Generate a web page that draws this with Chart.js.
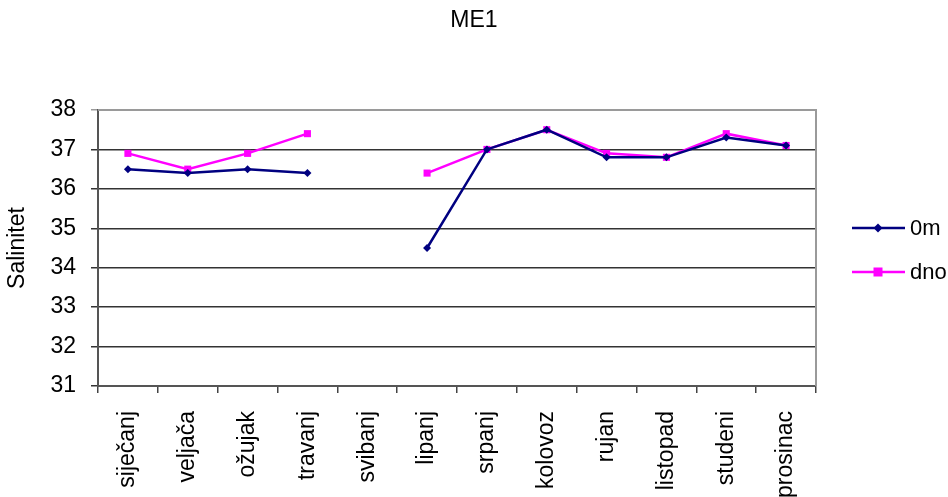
<!DOCTYPE html>
<html>
<head>
<meta charset="utf-8">
<script src="https://cdn.jsdelivr.net/npm/chart.js@4"></script>
<style>
  html, body { margin: 0; padding: 0; background: #fff; }
  #wrap { width: 948px; height: 497px; }
</style>
</head>
<body>
<div id="wrap"><canvas id="chart" width="948" height="497"></canvas></div>
<script>
// podaci
const mjeseci = ['siječanj', 'veljača', 'ožujak', 'travanj', 'svibanj', 'lipanj',
                 'srpanj', 'kolovoz', 'rujan', 'listopad', 'studeni', 'prosinac'];
const povrsina = [36.5, 36.4, 36.5, 36.4, null, 34.5, 37.0, 37.5, 36.8, 36.8, 37.3, 37.1]; // 0m
const dno = [36.9, 36.5, 36.9, 37.4, null, 36.4, 37.0, 37.5, 36.9, 36.8, 37.4, 37.1];
const naslov = 'ME1';
const osY = 'Salinitet';

const FONT = "'Liberation Sans', Arial, sans-serif";

// naslov, okvir i legenda (Excel stil)
const excelPlugin = {
    id: 'excel',
    afterDraw(chart) {
        const c = chart.ctx;
        const a = chart.chartArea;
        c.save();
        // okvir desno i gore
        c.strokeStyle = '#9a9a9a';
        c.lineWidth = 2;
        c.beginPath();
        c.moveTo(a.left, a.top);
        c.lineTo(a.right, a.top);
        c.lineTo(a.right, a.bottom);
        c.stroke();

        // naslov
        c.fillStyle = '#000';
        c.font = '23px ' + FONT;
        c.textAlign = 'center';
        c.textBaseline = 'middle';
        c.fillText(naslov, chart.width / 2, 21);

        // legenda
        const x0 = a.right + 36;
        const items = chart.data.datasets;
        items.forEach((ds, i) => {
            const y = 228 + i * 44;
            c.strokeStyle = ds.borderColor;
            c.lineWidth = 2.5;
            c.beginPath();
            c.moveTo(x0, y);
            c.lineTo(x0 + 53, y);
            c.stroke();
            c.fillStyle = ds.borderColor;
            const mx = x0 + 26;
            if (ds.pointStyle === 'rect') {
                c.fillRect(mx - 4.5, y - 4.5, 9, 9);
            } else {
                c.beginPath();
                c.moveTo(mx, y - 4.5);
                c.lineTo(mx + 4.5, y);
                c.lineTo(mx, y + 4.5);
                c.lineTo(mx - 4.5, y);
                c.closePath();
                c.fill();
            }
            c.fillStyle = '#000';
            c.font = '22px ' + FONT;
            c.textAlign = 'left';
            c.fillText(ds.label, x0 + 58, y + 1);
        });
        c.restore();
    }
};

const ctx = document.getElementById('chart').getContext('2d');
const chart = new Chart(ctx, {
    type: 'line',
    data: {
        labels: mjeseci,
        datasets: [{
            label: '0m',
            data: povrsina,
            borderColor: '#000080',
            backgroundColor: '#000080',
            borderWidth: 2.5,
            pointStyle: 'rectRot',
            pointRadius: 4,
            pointBorderWidth: 0,
            tension: 0
        }, {
            label: 'dno',
            data: dno,
            borderColor: '#ff00ff',
            backgroundColor: '#ff00ff',
            borderWidth: 2.5,
            pointStyle: 'rect',
            pointRadius: 5,
            pointBorderWidth: 0,
            tension: 0
        }]
    },
    options: {
        responsive: false,
        animation: false,
        spanGaps: false,
        layout: { padding: { top: 110, right: 132, left: 0, bottom: 0 } },
        plugins: {
            legend: { display: false },
            title: { display: false },
            tooltip: { enabled: false }
        },
        scales: {
            x: {
                offset: true,
                afterFit: s => { s.height = 111; },
                grid: { offset: true, drawOnChartArea: false, drawTicks: true, tickLength: 7, color: '#444', lineWidth: 1.5 },
                border: { color: '#555', width: 2 },
                ticks: {
                    autoSkip: false, minRotation: 90, maxRotation: 90, padding: 18,
                    color: '#000', font: { family: FONT, size: 23 }
                }
            },
            y: {
                min: 31, max: 38,
                afterFit: s => { s.width = 98; },
                grid: {
                    color: ctx => ctx.tick && ctx.tick.value === 38 ? '#9a9a9a' : '#333',
                    lineWidth: 1.5, tickLength: 7
                },
                border: { color: '#555', width: 2 },
                ticks: {
                    stepSize: 1, padding: 15, color: '#000',
                    font: { family: FONT, size: 23 }
                },
                title: {
                    display: true, text: osY, color: '#000',
                    font: { family: FONT, size: 23 },
                    padding: { top: 4, bottom: 0 }
                }
            }
        }
    },
    plugins: [excelPlugin]
});
</script>
</body>
</html>
